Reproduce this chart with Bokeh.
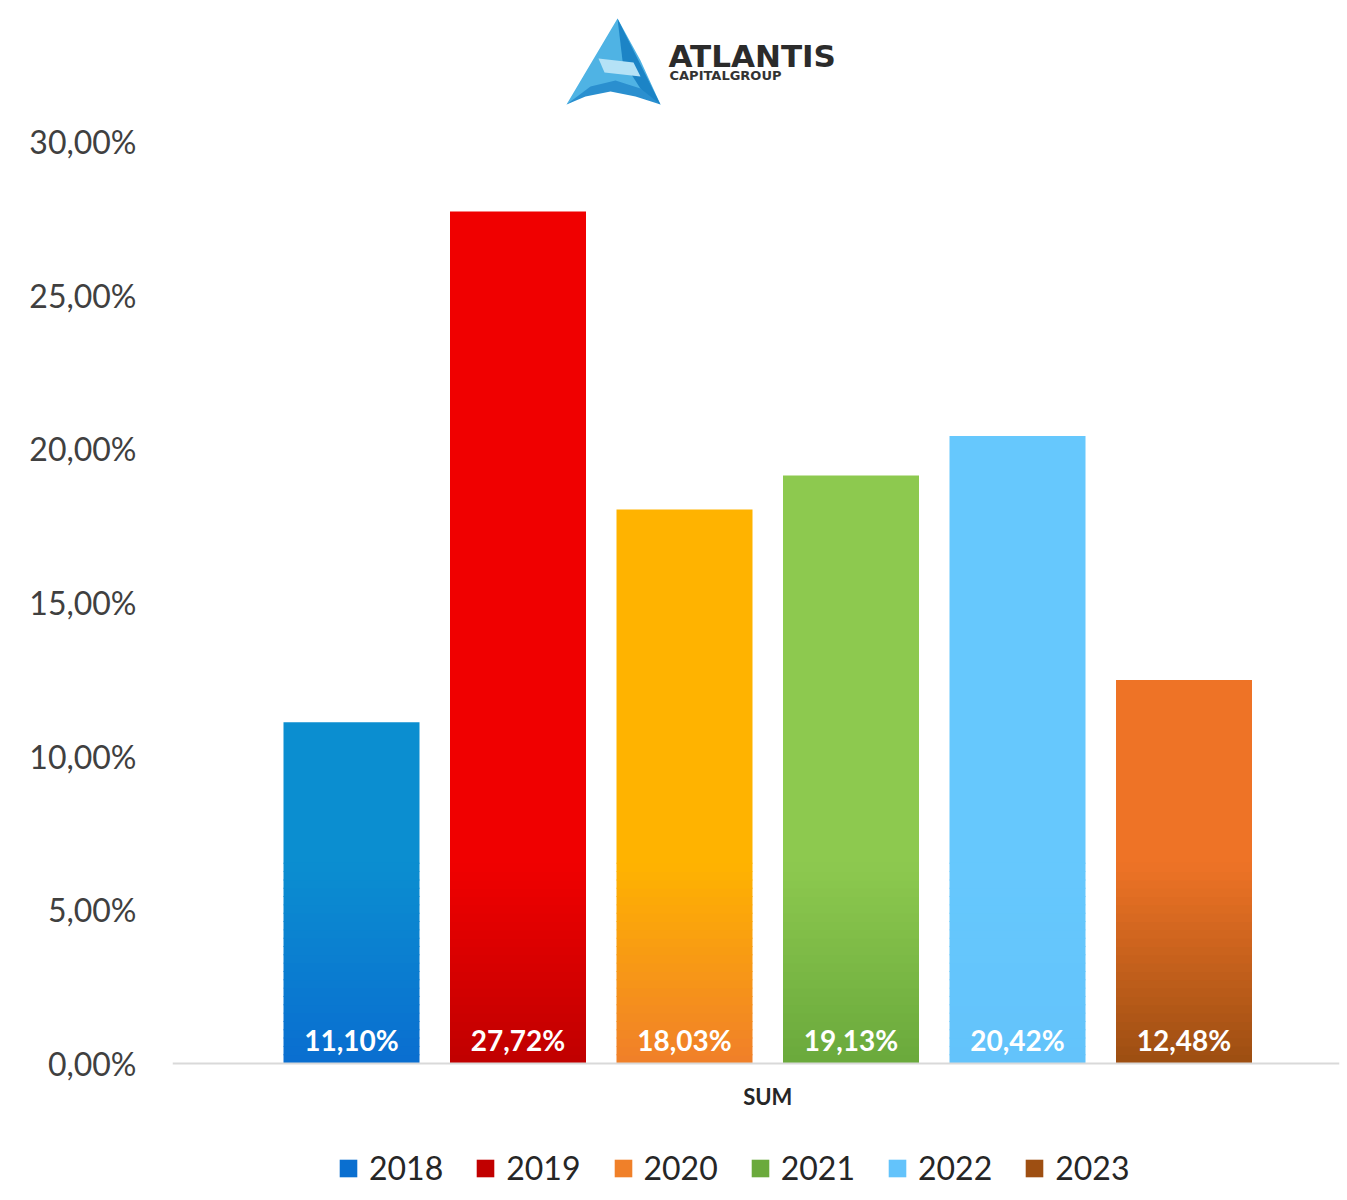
import numpy as np
from bokeh.plotting import figure
from bokeh.models import Range1d, FixedTicker, Legend, LegendItem, ColumnDataSource, Span
from bokeh.layouts import column
from bokeh.embed import file_html
from bokeh.resources import INLINE
from bokeh.core.properties import value

# ---------------- data ----------------
years = ["2018", "2019", "2020", "2021", "2022", "2023"]
values = [11.10, 27.72, 18.03, 19.13, 20.42, 12.48]
y_ticks = [0, 5, 10, 15, 20, 25, 30]
y_tick_labels = ["0,00%", "5,00%", "10,00%", "15,00%", "20,00%", "25,00%", "30,00%"]
category_label = "SUM"
brand_name = "ATLANTIS"
brand_sub = "CAPITALGROUP"

# ---------------- styles ----------------
top_colors = ["#0b8ed0", "#f00000", "#ffb300", "#8dc94f", "#66c8fd", "#ee7326"]
bottom_colors = ["#0a6ed0", "#c00000", "#f07f2a", "#6aa93c", "#63c3fb", "#9c4e12"]
GRAD_TOP = 6.5   # gradient zone height (in % units)
N_SLICES = 24


def fmt(v):
    return f"{v:.2f}".replace(".", ",") + "%"


def hex2rgb(h):
    h = h.lstrip("#")
    return np.array([int(h[i:i + 2], 16) for i in (0, 2, 4)], dtype=float)


def mix(c0, c1, t):
    a, b = hex2rgb(c0), hex2rgb(c1)
    c = a + (b - a) * t
    return "#%02x%02x%02x" % tuple(int(round(x)) for x in c)


W = 1340
FRAME_L = 172
FRAME_R = 1339
LOGO_H = 120
MAIN_H = 1080

# ---------------- logo figure ----------------
logo = figure(width=W, height=LOGO_H, x_range=Range1d(FRAME_L, FRAME_R), y_range=Range1d(LOGO_H, 0),
              output_backend="svg", toolbar_location=None,
              min_border_left=FRAME_L, min_border_right=W - FRAME_R, min_border_top=0, min_border_bottom=0,
              x_axis_location=None, y_axis_location=None)
logo.grid.visible = False
logo.outline_line_color = None

logo_shapes_x = [
    [617, 566, 590, 614, 640, 660, 640],
    [617, 628, 660, 645, 622],
    [598, 633, 640, 604],
    [566, 590, 615, 640, 660, 635, 610, 585],
]
logo_shapes_y = [
    [18, 104, 92, 82, 92, 104, 60],
    [18, 40, 104, 96, 60],
    [58, 62, 76, 72],
    [104, 86, 80, 88, 104, 96, 91, 96],
]
logo_colors = ["#4fb3e4", "#1c84c6", "#b5e2f6", "#2a8fcf"]
logo.patches(xs=logo_shapes_x, ys=logo_shapes_y, fill_color=logo_colors, line_color=None)
logo.text(x=[668], y=[55], text=[brand_name], text_font=value("DejaVu Sans"),
          text_font_style="bold", text_font_size="31px", text_color="#2b2b2b",
          text_baseline="middle", text_align="left")
logo.text(x=[669], y=[75], text=[brand_sub], text_font=value("DejaVu Sans"),
          text_font_style="bold", text_font_size="13px", text_color="#333333",
          text_baseline="middle", text_align="left")

# ---------------- main chart ----------------
ZERO_PX = 1063 - LOGO_H          # zero line, px from main-figure top
px_per_unit = 922 / 30.0
y_top = ZERO_PX / px_per_unit
y_bottom = -(MAIN_H - ZERO_PX) / px_per_unit
bar_pitch = 166.5
x_left = (FRAME_L - 351) / bar_pitch
x_right = (FRAME_R - 351) / bar_pitch

p = figure(width=W, height=MAIN_H, x_range=Range1d(x_left, x_right), y_range=Range1d(y_bottom, y_top),
           output_backend="svg", toolbar_location=None, x_axis_location=None,
           min_border_left=FRAME_L, min_border_right=W - FRAME_R, min_border_top=0, min_border_bottom=0)
p.grid.visible = False
p.outline_line_color = None

idx = np.arange(len(years))
bar_w = 136 / bar_pitch

# baseline (category axis line)
p.add_layout(Span(location=0, dimension="width", line_color="#d9d9d9", line_width=2))

# solid upper part
g_tops = [min(v, GRAD_TOP) for v in values]
solid = ColumnDataSource(dict(x=idx, bottom=g_tops, top=values, color=top_colors))
p.vbar(x="x", bottom="bottom", top="top", width=bar_w, fill_color="color",
       line_color=None, source=solid)

# gradient lower part
gx, gb, gt, gc = [], [], [], []
for i in range(len(years)):
    for k in range(N_SLICES):
        gx.append(i)
        gb.append(g_tops[i] * k / N_SLICES)
        gt.append(g_tops[i] * (k + 1) / N_SLICES + 0.03)
        gc.append(mix(bottom_colors[i], top_colors[i], (k + 0.5) / N_SLICES))
grad = ColumnDataSource(dict(x=gx, bottom=gb, top=gt, color=gc))
grad_r = p.vbar(x="x", bottom="bottom", top="top", width=bar_w, fill_color="color",
                line_color=None, source=grad)

# value labels
p.text(x=idx, y=[0] * len(values), text=[fmt(v) for v in values], y_offset=-24,
       text_align="center", text_baseline="middle", text_color="white",
       text_font=value("Lato"), text_font_style="bold", text_font_size="28px")

# category label under the baseline
center = (len(years) - 1) / 2
p.text(x=[center], y=[0], text=[category_label], y_offset=33,
       text_align="center", text_baseline="middle", text_color="#262626",
       text_font=value("Lato"), text_font_style="bold", text_font_size="22px")

# y axis
yax = p.yaxis[0]
yax.ticker = FixedTicker(ticks=y_ticks)
yax.major_label_overrides = {t: l for t, l in zip(y_ticks, y_tick_labels)}
yax.axis_line_color = None
yax.major_tick_line_color = None
yax.minor_tick_line_color = None
yax.major_label_standoff = 30
yax.major_label_text_font = "Lato"
yax.major_label_text_font_size = "32px"
yax.major_label_text_color = "#404040"

# legend
items = [LegendItem(label=years[i], renderers=[grad_r], index=i * N_SLICES) for i in range(len(years))]
legend = Legend(items=items, orientation="horizontal", location=(337 - FRAME_L, 13),
                glyph_width=22, glyph_height=22, label_text_font="Lato",
                label_text_font_size="32px", label_text_color="#262626",
                label_standoff=10, spacing=31, padding=0, margin=0,
                border_line_color=None, background_fill_alpha=0)
p.add_layout(legend)

layout = column(logo, p, spacing=0)
open("out.html", "w").write(file_html(layout, INLINE))
